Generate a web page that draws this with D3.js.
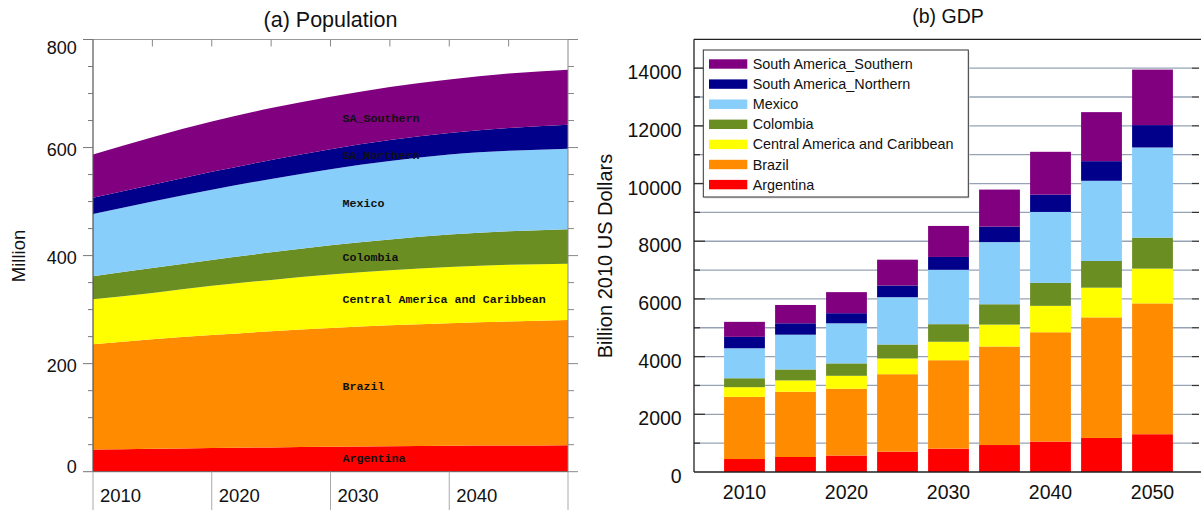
<!DOCTYPE html>
<html>
<head>
<meta charset="utf-8">
<script src="https://cdn.jsdelivr.net/npm/d3@7"></script>
<style>
  html, body { margin: 0; padding: 0; background: #fff; }
  svg { display: block; font-family: "Liberation Sans", Arial, Helvetica, sans-serif; }
</style>
</head>
<body>
<svg id="chart" width="1201" height="510"></svg>
<script>
// ---------------- DATA ----------------
const years = [2010, 2015, 2020, 2025, 2030, 2035, 2040, 2045, 2050];
const regions = ["Argentina", "Brazil", "Central America and Caribbean", "Colombia",
                 "Mexico", "South America_Northern", "South America_Southern"];
const popLabels = ["Argentina", "Brazil", "Central America and Caribbean", "Colombia",
                   "Mexico", "SA_Northern", "SA_Southern"];

// Population (million)
const popArgentina = [41, 42.5, 44, 45, 46, 47, 48, 48.5, 49];
const popBrazil    = [195, 202.5, 209, 215, 220, 224, 227, 229.5, 232];
const popCAC       = [83, 86, 91, 95, 99, 102, 104, 105, 104];
const popColombia  = [43, 46, 48, 51, 54, 57, 60, 62, 64];
const popMexico    = [115, 123, 130, 136, 141, 145, 148, 149, 149];
const popSANorth   = [30, 31, 33, 35, 37, 39, 40, 42, 44];
const popSASouth   = [80, 88, 93, 96, 97, 98, 99, 101, 102];

// GDP (billion 2010 US dollars)
const gdpArgentina = [450, 520, 570, 705, 810, 935, 1055, 1180, 1310];
const gdpBrazil    = [2155, 2260, 2315, 2685, 3065, 3415, 3790, 4180, 4535];
const gdpCAC       = [335, 395, 450, 545, 640, 760, 915, 1030, 1205];
const gdpColombia  = [310, 380, 430, 485, 610, 705, 795, 925, 1075];
const gdpMexico    = [1040, 1205, 1390, 1640, 1885, 2155, 2460, 2780, 3125];
const gdpSANorth   = [395, 395, 350, 405, 445, 535, 600, 680, 775];
const gdpSASouth   = [520, 635, 730, 895, 1075, 1285, 1485, 1700, 1925];

const popTicks = [0, 200, 400, 600, 800];
const popXLabels = [2010, 2020, 2030, 2040];
const gdpTicks = [0, 2000, 4000, 6000, 8000, 10000, 12000, 14000];
const gdpXLabels = [2010, 2020, 2030, 2040, 2050];

// ---------------- STYLE ----------------
const colors = ["#ff0000", "#ff8c00", "#ffff00", "#6b8e23", "#87cefa", "#00008b", "#800080"];

const popSeries = [popArgentina, popBrazil, popCAC, popColombia, popMexico, popSANorth, popSASouth];
const gdpSeries = [gdpArgentina, gdpBrazil, gdpCAC, gdpColombia, gdpMexico, gdpSANorth, gdpSASouth];

const popRows = years.map((y, i) => {
  const r = { year: y };
  regions.forEach((k, j) => r[k] = popSeries[j][i]);
  return r;
});
const gdpRows = years.map((y, i) => {
  const r = { year: y };
  regions.forEach((k, j) => r[k] = gdpSeries[j][i]);
  return r;
});

const svg = d3.select("#chart");

// ================= PANEL (a) POPULATION =================
const pL = 93, pR = 568, pT = 39.5, pB = 471.7;
const xP = d3.scaleLinear().domain([2010, 2050]).range([pL, pR]);
const yP = d3.scaleLinear().domain([0, 800]).range([pB, pT]);

const popStack = d3.stack().keys(regions)(popRows);
const area = d3.area()
  .x(d => xP(d.data.year))
  .y0(d => yP(d[0]))
  .y1(d => yP(d[1]))
  .curve(d3.curveMonotoneX);

const gA = svg.append("g");
gA.selectAll("path.band").data(popStack).join("path")
  .attr("class", "band")
  .attr("d", area)
  .attr("fill", (d, i) => colors[i]);

// labels inside bands (mid-band at a reference year)
const labelYear = 2032;
const interp = (arr, yr) => {
  const i = d3.bisectLeft(years, yr);
  if (years[i] === yr) return arr[i];
  const t = (yr - years[i - 1]) / (years[i] - years[i - 1]);
  return arr[i - 1] + t * (arr[i] - arr[i - 1]);
};
gA.selectAll("text.blab").data(popStack).join("text")
  .attr("class", "blab")
  .attr("x", xP(2031))
  .attr("y", d => {
    const lo = interp(d.map(p => p[0]), labelYear);
    const hi = interp(d.map(p => p[1]), labelYear);
    return yP((lo + hi) / 2);
  })
  .attr("dominant-baseline", "central")
  .style("font-family", "'Liberation Mono', 'Courier New', monospace")
  .style("font-weight", "bold")
  .style("font-size", "11.7px")
  .attr("fill", "#111")
  .text((d, i) => popLabels[i]);

// frame
gA.append("line").attr("x1", pL).attr("x2", pR).attr("y1", pT).attr("y2", pT).attr("stroke", "#999").attr("stroke-width", 1);
gA.append("line").attr("x1", pR).attr("x2", pR).attr("y1", pT).attr("y2", pB).attr("stroke", "#888").attr("stroke-width", 1);
gA.append("line").attr("x1", pL).attr("x2", pL).attr("y1", pT).attr("y2", pB).attr("stroke", "#555").attr("stroke-width", 1.2);
gA.append("line").attr("x1", pL).attr("x2", pR).attr("y1", pB).attr("y2", pB).attr("stroke", "#666").attr("stroke-width", 1);

// left ticks (outward)
const minorP = d3.range(0, 801, 50);
gA.selectAll("line.ltick").data(minorP).join("line")
  .attr("x1", d => popTicks.includes(d) ? pL - 10 : pL - 5).attr("x2", pL)
  .attr("y1", d => yP(d)).attr("y2", d => yP(d))
  .attr("stroke", "#777").attr("stroke-width", 1);
// right ticks (outward)
gA.selectAll("line.rtick").data(minorP).join("line")
  .attr("x1", pR).attr("x2", d => popTicks.includes(d) ? pR + 10 : pR + 6)
  .attr("y1", d => yP(d)).attr("y2", d => yP(d))
  .attr("stroke", "#888").attr("stroke-width", 1);
// top ticks (inward)
gA.selectAll("line.ttick").data(years.slice(1, -1)).join("line")
  .attr("x1", d => xP(d)).attr("x2", d => xP(d))
  .attr("y1", pT).attr("y2", pT + 7)
  .attr("stroke", "#888").attr("stroke-width", 1);

// y labels
gA.selectAll("text.ylab").data(popTicks).join("text")
  .attr("x", 76.7)
  .attr("y", d => Math.min(Math.max(yP(d) + 8.5, 54), 473))
  .attr("text-anchor", "end")
  .style("font-size", "18px")
  .attr("fill", "#111")
  .text(d => d);

// bottom separators and labels
gA.selectAll("line.sep").data([2010, 2020, 2030, 2040, 2050]).join("line")
  .attr("x1", d => xP(d)).attr("x2", d => xP(d))
  .attr("y1", pB).attr("y2", 510)
  .attr("stroke", "#aaa").attr("stroke-width", 1);
gA.selectAll("text.xlab").data(popXLabels).join("text")
  .attr("x", d => xP(d) + 7)
  .attr("y", 502)
  .style("font-size", "18.5px")
  .attr("fill", "#111")
  .text(d => d);

// title & y label
svg.append("text").attr("x", 330.5).attr("y", 26.5).attr("text-anchor", "middle")
  .style("font-size", "21.5px").attr("fill", "#111").text("(a) Population");
svg.append("text").attr("transform", "translate(25,256) rotate(-90)")
  .attr("text-anchor", "middle").style("font-size", "18.5px").attr("fill", "#111").text("Million");

// ================= PANEL (b) GDP =================
const gL = 694, gR = 1203, gT = 39.3, gB = 472;
const xG = d3.scaleBand().domain(years).range([gL, gR]).paddingInner(0.2).paddingOuter(0.59);
const yG = d3.scaleLinear().domain([0, 15000]).range([gB, gT]);

const gB_ = svg.append("g");
// gridlines
const gridVals = d3.range(1000, 15000, 1000);
gB_.selectAll("line.grid").data(gridVals).join("line")
  .attr("x1", gL).attr("x2", 1192)
  .attr("y1", d => yG(d)).attr("y2", d => yG(d))
  .attr("stroke", "#97a3b5").attr("stroke-width", 1.3);
// left inward ticks
gB_.selectAll("line.gl").data(gridVals).join("line")
  .attr("x1", gL).attr("x2", d => d % 2000 === 0 ? gL + 11 : gL + 6)
  .attr("y1", d => yG(d)).attr("y2", d => yG(d))
  .attr("stroke", "#333").attr("stroke-width", 1.3);
// right ticks
gB_.selectAll("line.gr").data(gridVals).join("line")
  .attr("x1", 1192).attr("x2", 1199)
  .attr("y1", d => yG(d)).attr("y2", d => yG(d))
  .attr("stroke", "#333").attr("stroke-width", 1.3);

// bars
const gdpStack = d3.stack().keys(regions)(gdpRows);
gB_.selectAll("g.layer").data(gdpStack).join("g")
  .attr("class", "layer")
  .attr("fill", (d, i) => colors[i])
  .selectAll("rect").data(d => d).join("rect")
  .attr("x", d => xG(d.data.year))
  .attr("width", xG.bandwidth())
  .attr("y", d => yG(d[1]))
  .attr("height", d => yG(d[0]) - yG(d[1]));

// frame
gB_.append("line").attr("x1", gL).attr("x2", 1201).attr("y1", gT).attr("y2", gT).attr("stroke", "#222").attr("stroke-width", 1.2);
gB_.append("line").attr("x1", gL).attr("x2", 1201).attr("y1", gB).attr("y2", gB).attr("stroke", "#222").attr("stroke-width", 1.3);
gB_.append("line").attr("x1", gL).attr("x2", gL).attr("y1", gT).attr("y2", gB).attr("stroke", "#222").attr("stroke-width", 1.3);

// y labels
gB_.selectAll("text.ylab").data(gdpTicks).join("text")
  .attr("x", 681.7)
  .attr("y", d => yG(d) + 11)
  .attr("text-anchor", "end")
  .style("font-size", "19.5px")
  .attr("fill", "#111")
  .text(d => d);
// x labels
gB_.selectAll("text.xlab").data(gdpXLabels).join("text")
  .attr("x", d => xG(d) + xG.bandwidth() / 2)
  .attr("y", 499)
  .attr("text-anchor", "middle")
  .style("font-size", "19.5px")
  .attr("fill", "#111")
  .text(d => d);

// title & y label
svg.append("text").attr("x", 948).attr("y", 22.5).attr("text-anchor", "middle")
  .style("font-size", "19.5px").attr("fill", "#111").text("(b) GDP");
svg.append("text").attr("transform", "translate(612,256) rotate(-90)")
  .attr("text-anchor", "middle").style("font-size", "20px").attr("fill", "#111").text("Billion 2010 US Dollars");

// legend
const lg = svg.append("g");
lg.append("rect").attr("x", 704.5).attr("y", 51.5).attr("width", 265).attr("height", 147)
  .attr("fill", "#ddd");
lg.append("rect").attr("x", 703.3).attr("y", 50).attr("width", 265).attr("height", 147)
  .attr("fill", "#fff").attr("stroke", "#333").attr("stroke-width", 1);
const legOrder = d3.range(regions.length).reverse();
lg.selectAll("g.item").data(legOrder).join("g")
  .attr("class", "item")
  .attr("transform", (d, i) => `translate(0,${64 + i * 20.1})`)
  .each(function (d) {
    const g = d3.select(this);
    g.append("rect").attr("x", 709).attr("y", -4.7).attr("width", 38.3).attr("height", 9.4).attr("fill", colors[d]);
    g.append("text").attr("x", 752.7).attr("y", 0).attr("dominant-baseline", "central")
      .style("font-size", "14.4px").attr("fill", "#111").text(regions[d]);
  });
</script>
</body>
</html>
